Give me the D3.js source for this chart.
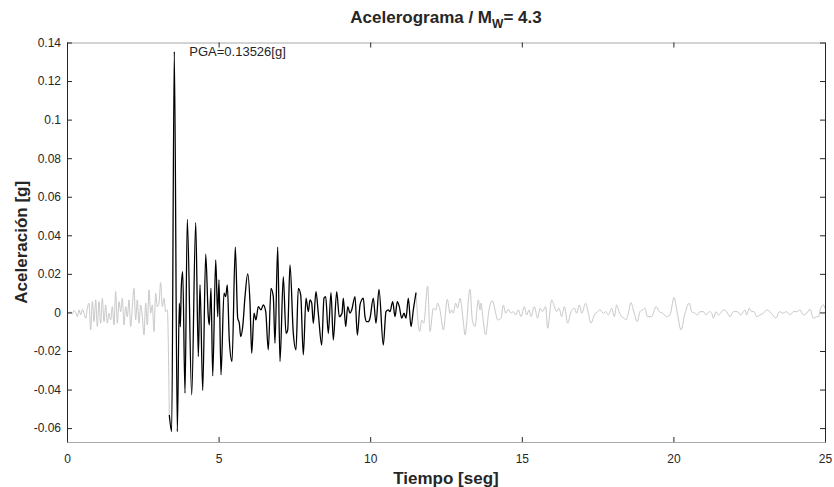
<!DOCTYPE html>
<html lang="es">
<head>
<meta charset="utf-8">
<title>Acelerograma</title>
<script src="https://cdn.jsdelivr.net/npm/d3@7"></script>
<style>
    body { margin: 0; background: #fff; }
    svg text { font-family: "Liberation Sans", Arial, Helvetica, sans-serif; fill: #262626; }
    .tick text { font-size: 12px; }
    .titulo { font-size: 17px; font-weight: bold; }
    .etiqueta { font-size: 17px; font-weight: bold; }
</style>
</head>
<body>
<script>
// tramo previo al evento (gris)
var tPre = [0, 0.066, 0.121, 0.176, 0.231, 0.286, 0.341, 0.396, 0.451, 0.506,
    0.561, 0.616, 0.671, 0.726, 0.781, 0.836, 0.891, 0.946, 1.000, 1.055,
    1.110, 1.165, 1.220, 1.275, 1.330, 1.385, 1.440, 1.495, 1.550, 1.605,
    1.660, 1.715, 1.770, 1.825, 1.880, 1.935, 1.990, 2.045, 2.100, 2.155,
    2.210, 2.265, 2.320, 2.375, 2.430, 2.485, 2.540, 2.595, 2.650, 2.704,
    2.759, 2.814, 2.869, 2.924, 2.979, 3.034, 3.089, 3.144, 3.199, 3.254,
    3.309, 3.374];
var aPre = [-0.0001, -0.0004, 0.0004, -0.0008, 0.0010, -0.0001, -0.0022, 0.0013, -0.0013, 0.0016,
    -0.0004, -0.0030, 0.0022, 0.0048, -0.0091, 0.0056, -0.0048, 0.0065, -0.0073, 0.0056,
    -0.0056, 0.0073, -0.0048, 0.0039, -0.0056, -0.0004, -0.0039, 0.0030, -0.0065, 0.0108,
    -0.0056, 0.0056, 0.0004, 0.0073, -0.0065, 0.0030, -0.0022, 0.0065, -0.0073, 0.0030,
    0.0125, -0.0039, 0.0065, -0.0056, 0.0039, -0.0022, -0.0117, 0.0048, -0.0065, 0.0117,
    -0.0004, 0.0039, -0.0099, 0.0099, 0.0030, 0.0048, 0.0155, 0.0030, 0.0073, 0.0004,
    0.0013, -0.0532];

// fase intensa (negro)
var tEvento = [3.374, 3.453, 3.539, 3.638, 3.704, 3.737, 3.770, 3.816, 3.892, 3.968,
    4.113, 4.245, 4.331, 4.387, 4.476, 4.575, 4.660, 4.693, 4.749, 4.806,
    4.905, 4.971, 5.013, 5.079, 5.178, 5.234, 5.287, 5.353, 5.442, 5.551,
    5.630, 5.683, 5.729, 5.795, 5.871, 5.960, 6.036, 6.092, 6.168, 6.233,
    6.309, 6.398, 6.474, 6.554, 6.639, 6.728, 6.804, 6.860, 6.949, 7.025,
    7.134, 7.223, 7.279, 7.355, 7.464, 7.553, 7.629, 7.708, 7.794, 7.883,
    7.959, 8.015, 8.071, 8.124, 8.212, 8.288, 8.400, 8.476, 8.532, 8.618,
    8.707, 8.783, 8.895, 8.981, 9.070, 9.113, 9.192, 9.258, 9.334, 9.390,
    9.499, 9.575, 9.664, 9.720, 9.773, 9.828, 9.885, 9.937, 9.993, 10.102,
    10.191, 10.290, 10.432, 10.521, 10.597, 10.653, 10.742, 10.818, 10.894, 10.960,
    11.039, 11.115, 11.181, 11.257, 11.346, 11.422, 11.511];
var aEvento = [-0.0532, -0.0618, 0.13526, -0.0618, 0.0048, -0.0074, 0.0134, 0.0212, -0.0419, 0.0483,
    -0.0428, 0.0466, -0.0229, 0.0143, -0.0405, 0.0302, -0.0022, -0.0065, 0.0125, -0.0329,
    0.0272, -0.0022, 0.0169, -0.0324, 0.0100, 0.0082, 0.0143, -0.0143, -0.0255, 0.0338,
    -0.0030, -0.0056, -0.0125, -0.0074, 0.0082, 0.0200, 0.0048, -0.0212, -0.0004, -0.0039,
    0.0030, 0.0013, 0.0039, 0.0004, -0.0194, 0.0125, 0.0082, -0.0160, 0.0338, -0.0255,
    0.0186, -0.0108, -0.0091, 0.0246, -0.0108, -0.0194, 0.0125, 0.0091, -0.0220, 0.0074,
    0.0004, 0.0065, 0.0048, -0.0056, 0.0108, -0.0004, -0.0169, 0.0074, 0.0082, -0.0108,
    0.0103, -0.0143, 0.0108, -0.0022, -0.0004, 0.0074, -0.0074, 0.0030, -0.0004, 0.0013,
    0.0082, -0.0117, 0.0039, 0.0065, 0.0074, -0.0022, -0.0048, -0.0048, -0.0030, 0.0074,
    -0.0056, 0.0120, -0.0169, 0.0004, 0.0013, 0.0004, 0.0056, -0.0022, 0.0056, 0.0030,
    -0.0030, -0.0004, -0.0030, 0.0074, -0.0074, 0.0013, 0.0103];

// coda (gris)
var tPost = [11.511, 11.632, 11.698, 11.764, 11.895, 11.972, 12.082, 12.159, 12.225, 12.302,
    12.412, 12.544, 12.632, 12.687, 12.742, 12.819, 12.885, 12.962, 13.072, 13.127,
    13.292, 13.369, 13.456, 13.566, 13.621, 13.654, 13.731, 13.808, 13.918, 14.028,
    14.116, 14.204, 14.314, 14.391, 14.468, 14.556, 14.644, 14.721, 14.798, 14.886,
    14.974, 15.084, 15.161, 15.237, 15.303, 15.413, 15.523, 15.601, 15.677, 15.787,
    15.853, 15.985, 16.073, 16.150, 16.227, 16.315, 16.403, 16.513, 16.623, 16.733,
    16.810, 16.898, 16.975, 17.107, 17.194, 17.282, 17.392, 17.502, 17.579, 17.689,
    17.766, 17.854, 17.964, 18.052, 18.129, 18.206, 18.294, 18.382, 18.437, 18.514,
    18.602, 18.679, 18.811, 18.898, 18.986, 19.063, 19.140, 19.283, 19.426, 19.536,
    19.646, 19.778, 19.888, 20.020, 20.130, 20.251, 20.383, 20.525, 20.603, 20.712,
    20.789, 20.877, 20.987, 21.075, 21.185, 21.262, 21.317, 21.405, 21.482, 21.559,
    21.647, 21.757, 21.867, 21.977, 22.109, 22.219, 22.307, 22.361, 22.416, 22.504,
    22.581, 22.658, 22.746, 22.856, 22.966, 23.076, 23.186, 23.274, 23.384, 23.494,
    23.604, 23.736, 23.846, 23.956, 24.066, 24.176, 24.285, 24.395, 24.505, 24.615,
    24.725, 24.780, 24.857, 24.945, 25.000];
var aPost = [0.0103, -0.0099, -0.0039, -0.0056, 0.0137, -0.0099, 0.0022, 0.0013, 0.0048, 0.0013,
    -0.0091, 0.0068, -0.0004, 0.0013, -0.0004, 0.0048, 0.0022, 0.0073, -0.0048, -0.0117,
    0.0120, -0.0039, -0.0073, 0.0065, 0.0013, 0.0048, -0.0048, -0.0117, 0.0013, 0.0061,
    0.0013, -0.0039, -0.0030, 0.0039, -0.0004, 0.0016, -0.0004, 0.0004, -0.0013, 0.0013,
    -0.0022, 0.0030, -0.0013, 0.0013, -0.0022, 0.0030, -0.0030, 0.0022, 0.0004, 0.0030,
    -0.0082, 0.0065, 0.0030, 0.0004, 0.0022, -0.0022, 0.0030, -0.0056, 0.0004, 0.0022,
    -0.0004, 0.0039, -0.0004, 0.0048, -0.0004, -0.0056, -0.0013, 0.0004, 0.0013, -0.0004,
    0.0004, -0.0013, 0.0022, -0.0022, 0.0039, 0.0004, -0.0022, -0.0030, -0.0039, -0.0004,
    0.0051, 0.0013, -0.0048, 0.0004, 0.0013, 0.0022, -0.0022, -0.0022, 0.0030, 0.0004,
    -0.0004, -0.0022, -0.0013, 0.0077, -0.0004, -0.0091, -0.0004, 0.0048, 0.0004, -0.0004,
    -0.0013, 0.0004, 0.0004, -0.0013, 0.0004, -0.0004, -0.0030, 0.0004, -0.0013, -0.0004,
    0.0013, 0.0004, -0.0022, 0.0004, 0.0004, -0.0013, 0.0004, 0.0013, -0.0013, 0.0022,
    0.0004, 0.0004, -0.0022, -0.0013, -0.0004, 0.0013, 0.0004, -0.0013, -0.0030, 0.0004,
    -0.0004, 0.0004, -0.0013, 0.0004, 0.0004, 0.0013, -0.0013, -0.0004, 0.0016, -0.0030,
    -0.0022, -0.0022, 0.0022, 0.0039, 0.0022];

var tPGA = 3.539, PGA = 0.13526;
var xTicks = [0, 5, 10, 15, 20, 25];
var yTicks = [-0.06, -0.04, -0.02, 0, 0.02, 0.04, 0.06, 0.08, 0.1, 0.12, 0.14];

var width = 834, height = 487;
var margin = {top: 42.5, right: 9, bottom: 45, left: 67};

var svg = d3.select("body").append("svg")
    .attr("width", width).attr("height", height);

var x = d3.scaleLinear().domain([0, 25])
    .range([margin.left, width - margin.right]);
var y = d3.scaleLinear().domain([-0.0672, 0.14])
    .range([height - margin.bottom, margin.top]);

function puntos(t, a) {
    return t.map(function(d, i) { return [d, a[i]]; });
}

var linea = d3.line()
    .x(function(d) { return x(d[0]); })
    .y(function(d) { return y(d[1]); })
    .curve(d3.curveMonotoneX);

// gris primero, negro encima
svg.append("path").attr("d", linea(puntos(tPre, aPre)))
    .attr("fill", "none").attr("stroke", "#c8c8c8").attr("stroke-width", 1);
svg.append("path").attr("d", linea(puntos(tPost, aPost)))
    .attr("fill", "none").attr("stroke", "#c8c8c8").attr("stroke-width", 1);
svg.append("path").attr("d", linea(puntos(tEvento, aEvento)))
    .attr("fill", "none").attr("stroke", "#000").attr("stroke-width", 1.3)
    .attr("stroke-linejoin", "round");

var fmt = function(d) { return String(+d.toFixed(2)); };

var ejeX = svg.append("g").attr("transform", "translate(0," + y.range()[0] + ")")
    .call(d3.axisBottom(x).tickValues(xTicks).tickSizeInner(-5).tickSizeOuter(0).tickPadding(12));
var ejeXsup = svg.append("g").attr("transform", "translate(0," + y.range()[1] + ")")
    .call(d3.axisTop(x).tickValues(xTicks).tickSizeInner(-5).tickSizeOuter(0).tickFormat(""));
var ejeY = svg.append("g").attr("transform", "translate(" + x.range()[0] + ",0)")
    .call(d3.axisLeft(y).tickValues(yTicks).tickSizeInner(-5).tickSizeOuter(0).tickPadding(6).tickFormat(fmt));
var ejeYder = svg.append("g").attr("transform", "translate(" + x.range()[1] + ",0)")
    .call(d3.axisRight(y).tickValues(yTicks).tickSizeInner(-5).tickSizeOuter(0).tickFormat(""));

svg.selectAll(".tick line").attr("stroke", "#262626");
ejeY.select(".domain").attr("stroke", "#262626");
ejeYder.select(".domain").attr("stroke", "#262626");
ejeX.select(".domain").attr("stroke", "#a8a8a8");
ejeXsup.select(".domain").attr("stroke", "#a8a8a8");
svg.selectAll(".tick text").attr("fill", "#262626");

// titulo
var tit = svg.append("text").attr("class", "titulo")
    .attr("x", (x.range()[0] + x.range()[1]) / 2).attr("y", 23)
    .attr("text-anchor", "middle");
tit.append("tspan").text("Acelerograma / M");
tit.append("tspan").attr("dy", 5).attr("font-size", "12px").text("W");
tit.append("tspan").attr("dy", -5).text("= 4.3");

svg.append("text").attr("class", "etiqueta")
    .attr("x", (x.range()[0] + x.range()[1]) / 2).attr("y", 484)
    .attr("text-anchor", "middle").text("Tiempo [seg]");

svg.append("text").attr("class", "etiqueta")
    .attr("transform", "translate(27," + (y.range()[0] + y.range()[1]) / 2 + ") rotate(-90)")
    .attr("text-anchor", "middle").text("Aceleración [g]");

svg.append("text")
    .attr("x", x(tPGA) + 15).attr("y", y(PGA))
    .attr("dy", "0.35em").attr("font-size", "13px")
    .text("PGA=" + PGA.toFixed(5) + "[g]");
</script>
</body>
</html>
